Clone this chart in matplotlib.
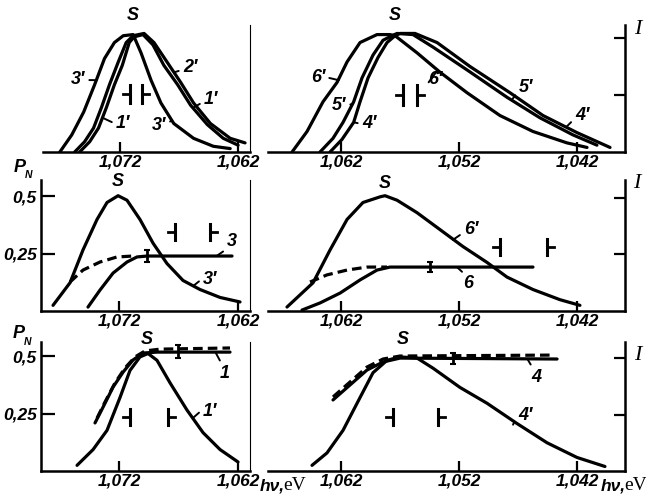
import matplotlib
matplotlib.use("Agg")
import matplotlib.pyplot as plt
from matplotlib.font_manager import FontProperties
from matplotlib.transforms import Affine2D
from matplotlib.lines import Line2D

W, H = 646, 497

# ---------------- data: photon energy (eV), intensity I (norm.), polarisation P_N ----------------
# Row 1, left panel (emission spectra)
tl_e_3p = [1.07713, 1.07612, 1.07511, 1.07418, 1.07334, 1.07250, 1.07175, 1.07091, 1.07024, 1.06939, 1.06855, 1.06746, 1.06578, 1.06410, 1.06267]
tl_i_3p = [0.00, 0.15, 0.35, 0.59, 0.82, 0.96, 1.02, 1.03, 0.87, 0.63, 0.43, 0.25, 0.12, 0.05, 0.03]
tl_e_2p = [1.07587, 1.07503, 1.07427, 1.07360, 1.07292, 1.07217, 1.07150, 1.07091, 1.06998, 1.06914, 1.06797, 1.06687, 1.06578, 1.06435, 1.06267, 1.06141]
tl_i_2p = [0.00, 0.09, 0.21, 0.39, 0.59, 0.79, 0.96, 1.02, 1.04, 0.96, 0.78, 0.61, 0.43, 0.25, 0.12, 0.08]
tl_e_1p = [1.07545, 1.07460, 1.07385, 1.07318, 1.07250, 1.07183, 1.07124, 1.07082, 1.07007, 1.06923, 1.06830, 1.06713, 1.06603, 1.06461, 1.06326, 1.06200]
tl_i_1p = [0.00, 0.09, 0.21, 0.39, 0.59, 0.76, 0.96, 1.01, 1.03, 0.94, 0.76, 0.59, 0.41, 0.24, 0.12, 0.06]

# Row 1, right panel
tr_e_6p = [1.06615, 1.06488, 1.06353, 1.06234, 1.06149, 1.06039, 1.05895, 1.05785, 1.05742, 1.05556, 1.05361, 1.05132, 1.04853, 1.04573, 1.04285, 1.04115]
tr_i_6p = [0.00, 0.18, 0.44, 0.61, 0.79, 0.96, 1.03, 1.03, 1.02, 0.87, 0.70, 0.52, 0.32, 0.18, 0.08, 0.04]
tr_e_5p = [1.06378, 1.06268, 1.06183, 1.06093, 1.06022, 1.05929, 1.05844, 1.05768, 1.05725, 1.05590, 1.05420, 1.05132, 1.04793, 1.04514, 1.04234, 1.04031]
tr_i_5p = [0.00, 0.12, 0.26, 0.44, 0.65, 0.85, 0.98, 1.02, 1.04, 1.03, 0.92, 0.72, 0.48, 0.30, 0.15, 0.06]
tr_e_4p = [1.06293, 1.06192, 1.06093, 1.06039, 1.05971, 1.05886, 1.05810, 1.05742, 1.05700, 1.05573, 1.05386, 1.05107, 1.04768, 1.04488, 1.04200, 1.03920]
tr_i_4p = [0.00, 0.11, 0.26, 0.44, 0.65, 0.83, 0.96, 1.02, 1.04, 1.04, 0.96, 0.75, 0.52, 0.32, 0.17, 0.04]

# Row 2, left panel
ml_e_3p = [1.07755, 1.07612, 1.07503, 1.07385, 1.07301, 1.07208, 1.07133, 1.07024, 1.06914, 1.06797, 1.06662, 1.06519, 1.06351, 1.06183]
ml_i_3p = [0.05, 0.25, 0.54, 0.81, 0.96, 1.02, 0.98, 0.81, 0.60, 0.42, 0.27, 0.19, 0.12, 0.08]
ml_e_3 = [1.07461, 1.07360, 1.07250, 1.07133, 1.07049, 1.06965, 1.06250]
ml_p_3 = [0.017, 0.091, 0.165, 0.213, 0.235, 0.239, 0.239]
ml_e_3d = [1.07612, 1.07503, 1.07360, 1.07217, 1.07082]
ml_p_3d = [0.126, 0.178, 0.213, 0.235, 0.239]
ml_err = (1.06965, 0.239, 0.025)

# Row 2, right panel
mr_e_6p = [1.06658, 1.06437, 1.06293, 1.06149, 1.06014, 1.05869, 1.05827, 1.05725, 1.05556, 1.05361, 1.05166, 1.04963, 1.04793, 1.04573, 1.04344, 1.04175]
mr_i_6p = [0.035, 0.25, 0.54, 0.81, 0.96, 1.01, 1.02, 0.98, 0.87, 0.72, 0.57, 0.43, 0.30, 0.19, 0.10, 0.05]
mr_e_6 = [1.06531, 1.06378, 1.06208, 1.06039, 1.05895, 1.05785, 1.04573]
mr_p_6 = [0.004, 0.035, 0.078, 0.135, 0.178, 0.191, 0.191]
mr_e_6d = [1.06463, 1.06319, 1.06149, 1.05980, 1.05810]
mr_p_6d = [0.126, 0.157, 0.178, 0.191, 0.191]
mr_err = (1.05446, 0.191, 0.022)

# Row 3, left panel
bl_e_1p = [1.07553, 1.07418, 1.07301, 1.07192, 1.07108, 1.07024, 1.06956, 1.06881, 1.06771, 1.06629, 1.06494, 1.06351, 1.06200]
bl_i_1p = [0.05, 0.19, 0.36, 0.65, 0.89, 1.01, 1.04, 0.98, 0.78, 0.54, 0.34, 0.19, 0.08]
bl_e_1 = [1.07402, 1.07334, 1.07250, 1.07166, 1.07082, 1.06998, 1.06881, 1.06687, 1.06267]
bl_p_1 = [0.209, 0.278, 0.365, 0.430, 0.483, 0.513, 0.517, 0.517, 0.517]
bl_e_1d = [1.07385, 1.07318, 1.07234, 1.07150, 1.07066, 1.06982, 1.06855, 1.06267]
bl_p_1d = [0.230, 0.300, 0.383, 0.448, 0.496, 0.522, 0.530, 0.535]
bl_err = (1.06704, 0.52, 0.028)

# Row 3, right panel
br_e_4p = [1.06446, 1.06319, 1.06183, 1.06039, 1.05929, 1.05810, 1.05700, 1.05556, 1.05420, 1.05192, 1.04963, 1.04708, 1.04454, 1.04200, 1.03963]
br_i_4p = [0.05, 0.16, 0.36, 0.65, 0.87, 0.98, 1.01, 1.00, 0.91, 0.74, 0.60, 0.42, 0.25, 0.12, 0.04]
br_e_4 = [1.06268, 1.06124, 1.05980, 1.05844, 1.05700, 1.04369]
br_p_4 = [0.309, 0.374, 0.439, 0.474, 0.491, 0.487]
br_e_4d = [1.06268, 1.06124, 1.05980, 1.05844, 1.05700, 1.04429]
br_p_4d = [0.322, 0.387, 0.452, 0.487, 0.500, 0.504]
br_err = (1.05251, 0.49, 0.025)

# ticks
xt_left = [1.072, 1.062]
xl_left = ["1,072", "1,062"]
xt_right = [1.062, 1.052, 1.042]
xl_right = ["1,062", "1,052", "1,042"]
pt_ticks = [0.5, 0.25]
pt_labels = ["0,5", "0,25"]
it_ticks = [1.0, 0.5]

# ---------------- figure ----------------
fig = plt.figure(figsize=(W / 100, H / 100), dpi=100)
pix = Affine2D().scale(1.0 / W, -1.0 / H).translate(0, 1) + fig.transFigure

SANS = ['Liberation Sans', 'DejaVu Sans']
fp_num = FontProperties(family=SANS, style='italic', weight='bold', size=12.5)
fp_lab = FontProperties(family=SANS, style='italic', weight='bold', size=13)
fp_P = FontProperties(family=SANS, style='italic', weight='bold', size=13)
fp_sub = FontProperties(family=SANS, style='italic', weight='bold', size=7.5)
fp_serif_it = FontProperties(family=['Liberation Serif', 'DejaVu Serif'], style='italic', size=16)
fp_serif = FontProperties(family=['Liberation Serif', 'DejaVu Serif'], size=14)

LEFT_X = (1.07856, 1.06099)
RIGHT_X = (1.06819, 1.03793)
LW = 2.3
SPW = 1.8


def make_panel(x0, x1, ytop, ybot, xlim, plim, ilim, xt, xl, left_axis, right_axis):
    rect = [x0 / W, 1 - ybot / H, (x1 - x0) / W, (ybot - ytop) / H]
    ax = fig.add_axes(rect)
    axi = ax.twinx()
    ax.set_xlim(*xlim)
    ax.set_ylim(*plim)
    axi.set_ylim(*ilim)
    for s in ['top', 'right', 'left']:
        ax.spines[s].set_visible(False)
    for s in ['top', 'left', 'bottom']:
        axi.spines[s].set_visible(False)
    ax.spines['bottom'].set_linewidth(SPW)
    ax.set_xticks(xt, labels=xl, fontproperties=fp_num)
    ax.tick_params(axis='x', direction='in', length=7, width=1.6, pad=2)
    if left_axis:
        ax.spines['left'].set_visible(True)
        ax.spines['left'].set_linewidth(SPW)
        ax.set_yticks(pt_ticks, labels=pt_labels, fontproperties=fp_num)
        ax.tick_params(axis='y', direction='in', length=10, width=1.6, pad=3)
    else:
        ax.set_yticks([])
    if right_axis:
        axi.spines['right'].set_visible(True)
        axi.spines['right'].set_linewidth(SPW)
        axi.set_yticks(it_ticks, labels=[])
        axi.tick_params(axis='y', direction='in', length=8, width=1.6)
    else:
        axi.set_yticks([])
    ax.patch.set_visible(False)
    return ax, axi


def curve(a, e, v, dashed=False):
    if dashed:
        a.plot(e, v, color='k', lw=LW, ls=(0, (3.0, 1.6)), solid_joinstyle='round', dash_capstyle='butt')
    else:
        a.plot(e, v, color='k', lw=LW, solid_joinstyle='round', solid_capstyle='round')


def ptext(x, y, s, fp=fp_lab, ha='center'):
    fig.text(x, y, s, transform=pix, ha=ha, va='center', fontproperties=fp)


def leader(a, s, xy, txy, rel):
    a.annotate(s, xy=xy, xycoords='data', xytext=txy, textcoords=pix,
               ha='center', va='center', fontproperties=fp_lab,
               arrowprops=dict(arrowstyle='-', lw=1.4, color='k', shrinkA=1, shrinkB=0, relpos=rel))


def res_mark(x, y, half, stub_left):
    fig.add_artist(Line2D([x, x], [y - half, y + half], transform=pix, color='k', lw=2.2))
    sx = [x - 7, x] if stub_left else [x, x + 7]
    fig.add_artist(Line2D(sx, [y, y], transform=pix, color='k', lw=2.0))


# ---- Row 1 ----
ax1, ai1 = make_panel(43, 250, 25, 152, LEFT_X, (0, 0.557), (0, 1.114), xt_left, xl_left, False, False)
curve(ai1, tl_e_3p, tl_i_3p)
curve(ai1, tl_e_2p, tl_i_2p)
curve(ai1, tl_e_1p, tl_i_1p)
ptext(133, 15, "S")
leader(ai1, "3′", (1.0740, 0.63), (78, 80), (1, 0.5))
leader(ai1, "1′", (1.0735, 0.30), (123, 124), (0, 0.5))
leader(ai1, "3′", (1.0676, 0.28), (159, 126), (1, 0.6))
leader(ai1, "2′", (1.0674, 0.70), (190, 68), (0, 0.4))
leader(ai1, "1′", (1.0658, 0.39), (211, 100), (0, 0.4))
res_mark(130, 94, 9, True)
res_mark(142, 94, 9, False)

ax2, ai2 = make_panel(268, 625, 25, 152, RIGHT_X, (0, 0.557), (0, 1.114), xt_right, xl_right, False, True)
curve(ai2, tr_e_6p, tr_i_6p)
curve(ai2, tr_e_5p, tr_i_5p)
curve(ai2, tr_e_4p, tr_i_4p)
ptext(395, 15, "S")
leader(ai2, "6′", (1.0622, 0.63), (318, 77), (1, 0.5))
leader(ai2, "5′", (1.0610, 0.42), (339, 105), (1, 0.5))
leader(ai2, "4′", (1.0609, 0.26), (369, 124), (0, 0.5))
leader(ai2, "6′", (1.0538, 0.72), (435, 80), (0, 0.3))
leader(ai2, "5′", (1.0475, 0.46), (526, 87), (0, 0.3))
leader(ai2, "4′", (1.0429, 0.22), (582, 115), (0, 0.3))
res_mark(403, 95, 10, True)
res_mark(417, 95, 10, False)
ptext(638, 30, "I", fp=fp_serif_it)

# ---- Row 2 ----
ax3, ai3 = make_panel(41, 250, 180, 311, LEFT_X, (0, 0.5696), (0, 1.159), xt_left, xl_left, True, False)
curve(ai3, ml_e_3p, ml_i_3p)
curve(ax3, ml_e_3, ml_p_3)
curve(ax3, ml_e_3d, ml_p_3d, dashed=True)
ax3.errorbar([ml_err[0]], [ml_err[1]], yerr=[ml_err[2]], fmt='none', ecolor='k', elinewidth=2, capsize=2.5, capthick=1.5)
ptext(118, 181, "S")
leader(ax3, "3", (1.0638, 0.239), (232, 242), (0, 0.1))
leader(ai3, "3′", (1.06578, 0.22), (210, 280), (0, 0.6))
res_mark(175, 232, 8, True)
res_mark(210, 232, 8, False)
ptext(20, 167, "P", fp=fp_P)
ptext(29, 175, "N", fp=fp_sub)

ax4, ai4 = make_panel(268, 625, 180, 311, RIGHT_X, (0, 0.5696), (0, 1.159), xt_right, xl_right, False, True)
curve(ai4, mr_e_6p, mr_i_6p)
curve(ax4, mr_e_6, mr_p_6)
curve(ax4, mr_e_6d, mr_p_6d, dashed=True)
ax4.errorbar([mr_err[0]], [mr_err[1]], yerr=[mr_err[2]], fmt='none', ecolor='k', elinewidth=2, capsize=2.5, capthick=1.5)
ptext(385, 184, "S")
leader(ai4, "6′", (1.05251, 0.63), (471, 229), (0, 0.3))
leader(ax4, "6", (1.05217, 0.191), (468, 284), (0.3, 1))
res_mark(500, 247, 8, True)
res_mark(547, 247, 8, False)
ptext(637, 183, "I", fp=fp_serif_it)

# ---- Row 3 ----
ax5, ai5 = make_panel(41, 250, 342, 471, LEFT_X, (0, 0.561), (0, 1.142), xt_left, xl_left, True, False)
curve(ai5, bl_e_1p, bl_i_1p)
curve(ax5, bl_e_1, bl_p_1)
curve(ax5, bl_e_1d, bl_p_1d, dashed=True)
ax5.errorbar([bl_err[0]], [bl_err[1]], yerr=[bl_err[2]], fmt='none', ecolor='k', elinewidth=2, capsize=2.5, capthick=1.5)
ptext(147, 340, "S")
leader(ax5, "1", (1.0639, 0.517), (225, 373), (0.2, 1))
leader(ai5, "1′", (1.06578, 0.47), (210, 411), (0, 0.6))
res_mark(130, 417, 8, True)
res_mark(168, 417, 8, False)
ptext(19, 334, "P", fp=fp_P)
ptext(28, 342, "N", fp=fp_sub)
ptext(260, 486, "hν,", fp=fp_num, ha='left')
ptext(283, 486, "eV", fp=fp_serif, ha='left')

ax6, ai6 = make_panel(268, 625, 342, 471, RIGHT_X, (0, 0.561), (0, 1.142), xt_right, xl_right, False, True)
curve(ai6, br_e_4p, br_i_4p)
curve(ax6, br_e_4, br_p_4)
curve(ax6, br_e_4d, br_p_4d, dashed=True)
ax6.errorbar([br_err[0]], [br_err[1]], yerr=[br_err[2]], fmt='none', ecolor='k', elinewidth=2, capsize=2.5, capthick=1.5)
ptext(403, 340, "S")
leader(ax6, "4", (1.0462, 0.487), (536, 377), (0.2, 1))
leader(ai6, "4′", (1.04742, 0.41), (525, 416), (0, 0.6))
res_mark(393, 417, 8, True)
res_mark(438, 417, 8, False)
ptext(638, 355, "I", fp=fp_serif_it)
ptext(601, 486, "hν,", fp=fp_num, ha='left')
ptext(624, 486, "eV", fp=fp_serif, ha='left')

fig.savefig("out.png", dpi=100)
